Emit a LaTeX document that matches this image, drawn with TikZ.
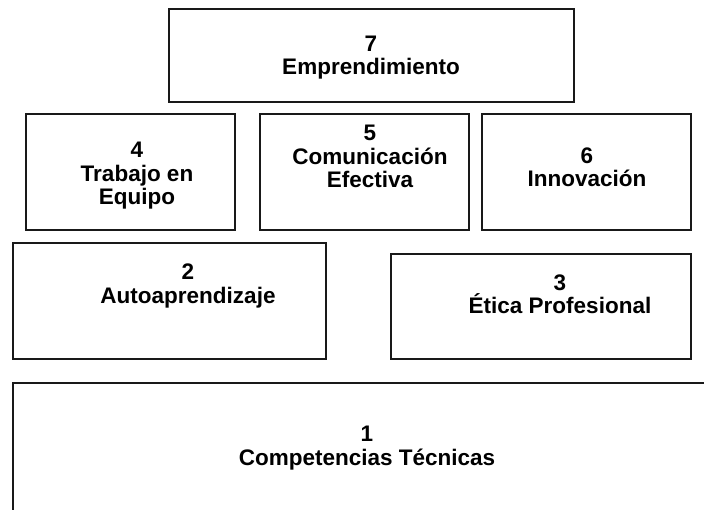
\documentclass[tikz,border=0pt]{standalone}
\usepackage{fontspec}
\setmainfont{Liberation Sans}
\begin{document}
\begin{tikzpicture}[x=1pt,y=-1pt,
  box/.style={draw=black!90, line width=2pt},
  lbl/.style={anchor=base, align=center, inner sep=0pt,
    font=\fontsize{22.5}{23.5}\selectfont\bfseries, text=black}]
\useasboundingbox (0,0) rectangle (704,510);
\clip (0,0) rectangle (704,510);
\fill[white] (0,0) rectangle (704,510);
% boxes
\draw[box] (169,9) rectangle (574,102);
\draw[box] (26,114) rectangle (235,230);
\draw[box] (260,114) rectangle (469,230);
\draw[box] (482,114) rectangle (691,230);
\draw[box] (13,243) rectangle (326,359);
\draw[box] (391,254) rectangle (691,359);
\draw[box] (13,383) rectangle (720,530);
% labels (anchor = baseline of last line)
\node[lbl] (t7) at (371,75) {7\\Emprendimiento};
\node[lbl] (t4) at (137,205) {4\\Trabajo en\\Equipo};
\node[lbl] (t5) at (370,188) {5\\Comunicación\\Efectiva};
\node[lbl] (t6) at (587,187) {6\\Innovación};
\node[lbl] (t2) at (188,303.5) {2\\Autoaprendizaje};
\node[lbl] (t3) at (560,314) {3\\Ética Profesional};
\node[lbl] (t1) at (367,465) {1\\Competencias Técnicas};
\end{tikzpicture}
\end{document}
